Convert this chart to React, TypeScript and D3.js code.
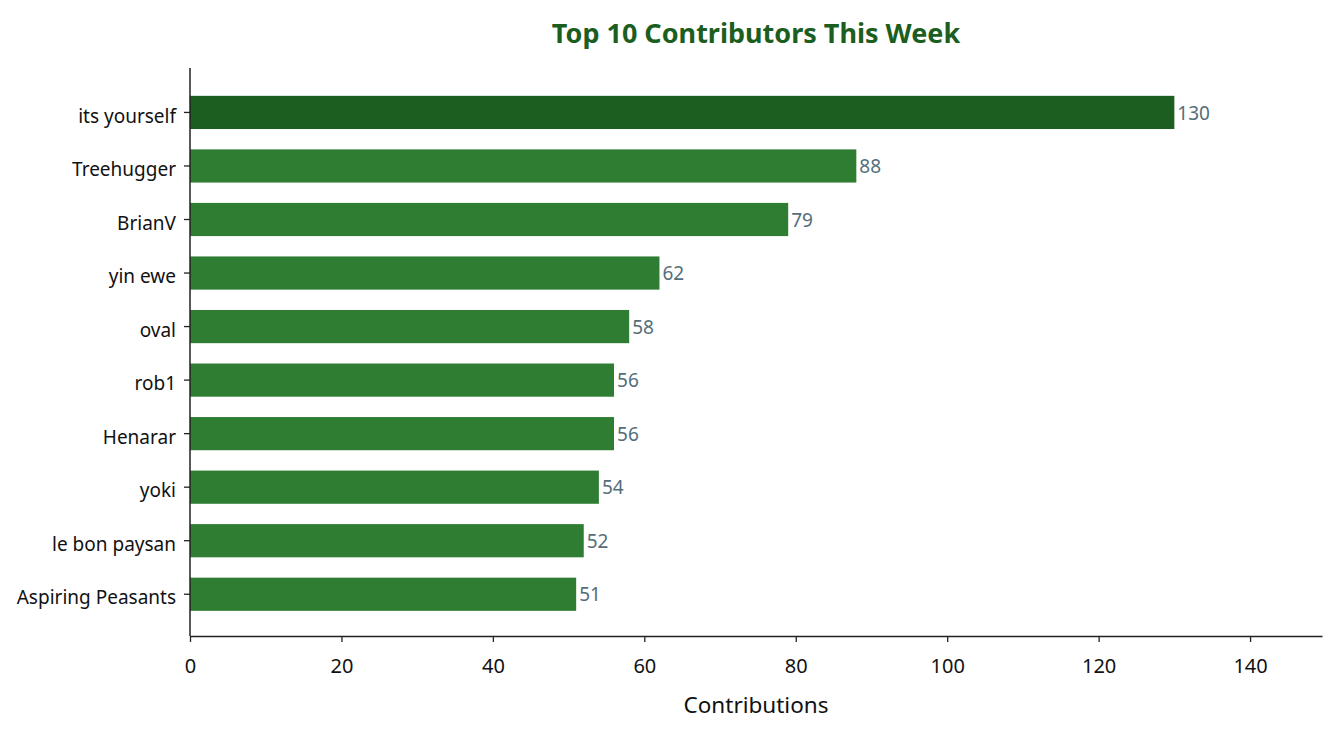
import { useEffect, useRef } from 'react';
import * as d3 from 'd3';

// contributors, top to bottom
const names = [
    'its yourself', 'Treehugger', 'BrianV', 'yin ewe', 'oval',
    'rob1', 'Henarar', 'yoki', 'le bon paysan', 'Aspiring Peasants'
];
const contributions = [130, 88, 79, 62, 58, 56, 56, 54, 52, 51];
const xTicks = [0, 20, 40, 60, 80, 100, 120, 140];

const WIDTH = 1337;
const HEIGHT = 735;

export default function App() {
    const svgRef = useRef<SVGSVGElement>(null);

    useEffect(() => {
        if (!svgRef.current) return;
        const svg = d3.select(svgRef.current);
        svg.selectAll('*').remove();

        const left = 190, right = 1322, top = 68, bottom = 636;
        const font = '"Noto Sans", "Open Sans", sans-serif';
        const axisColor = '#222';

        const data = names.map((name, i) => ({ name, value: contributions[i], i }));

        const x = d3.scaleLinear()
            .domain([0, d3.max(contributions)! * 1.15])
            .range([left, right]);

        // index scale (matplotlib-like margins around the bars)
        const y = d3.scaleLinear()
            .domain([-0.83, names.length - 1 + 0.78])
            .range([top, bottom]);
        const barH = (y(1) - y(0)) * 0.62;

        // bars
        svg.append('g')
            .selectAll('rect')
            .data(data)
            .enter()
            .append('rect')
            .attr('x', x(0))
            .attr('y', d => y(d.i) - barH / 2)
            .attr('width', d => x(d.value) - x(0))
            .attr('height', barH)
            .attr('fill', d => d.i === 0 ? '#1b5e20' : '#2e7d32');

        // value labels
        svg.append('g')
            .selectAll('text')
            .data(data)
            .enter()
            .append('text')
            .attr('x', d => x(d.value) + 3)
            .attr('y', d => y(d.i))
            .attr('dy', '0.38em')
            .attr('fill', '#546e7a')
            .attr('font-family', font)
            .attr('font-size', '19px')
            .text(d => d.value);

        // y axis
        const yAxis = svg.append('g').attr('transform', `translate(${left},0)`);
        yAxis.append('line')
            .attr('x1', 0).attr('x2', 0)
            .attr('y1', top).attr('y2', bottom)
            .attr('stroke', axisColor).attr('stroke-width', 1.5);
        yAxis.selectAll('.ytick')
            .data(data)
            .enter()
            .append('g')
            .attr('class', 'ytick')
            .attr('transform', d => `translate(0,${y(d.i)})`)
            .call(g => g.append('line')
                .attr('x1', -6).attr('x2', 0)
                .attr('stroke', axisColor).attr('stroke-width', 1.3))
            .call(g => g.append('text')
                .attr('x', -14)
                .attr('dy', '0.53em')
                .attr('text-anchor', 'end')
                .attr('fill', '#111')
                .attr('font-family', font)
                .attr('font-size', '19px')
                .text(d => d.name));

        // x axis
        svg.append('g')
            .attr('transform', `translate(0,${bottom})`)
            .call(d3.axisBottom(x).tickValues(xTicks).tickSize(6).tickPadding(17).tickSizeOuter(0))
            .call(g => g.select('.domain').attr('stroke', axisColor).attr('stroke-width', 1.5))
            .call(g => g.selectAll('.tick line').attr('stroke', axisColor).attr('stroke-width', 1.3))
            .call(g => g.selectAll('.tick text')
                .attr('fill', '#111')
                .attr('font-family', font)
                .attr('font-size', '20px'));

        // x axis label
        svg.append('text')
            .attr('x', (left + right) / 2)
            .attr('y', 713)
            .attr('text-anchor', 'middle')
            .attr('fill', '#111')
            .attr('font-family', font)
            .attr('font-size', '22.5px')
            .text('Contributions');

        // title
        svg.append('text')
            .attr('x', (left + right) / 2)
            .attr('y', 43)
            .attr('text-anchor', 'middle')
            .attr('fill', '#1b5e20')
            .attr('font-family', font)
            .attr('font-weight', 700)
            .attr('font-size', '27px')
            .text('Top 10 Contributors This Week');
    }, []);

    return (
        <svg
            ref={svgRef}
            width={WIDTH}
            height={HEIGHT}
            style={{ position: 'absolute', left: 0, top: 0, background: '#fff' }}
        />
    );
}
